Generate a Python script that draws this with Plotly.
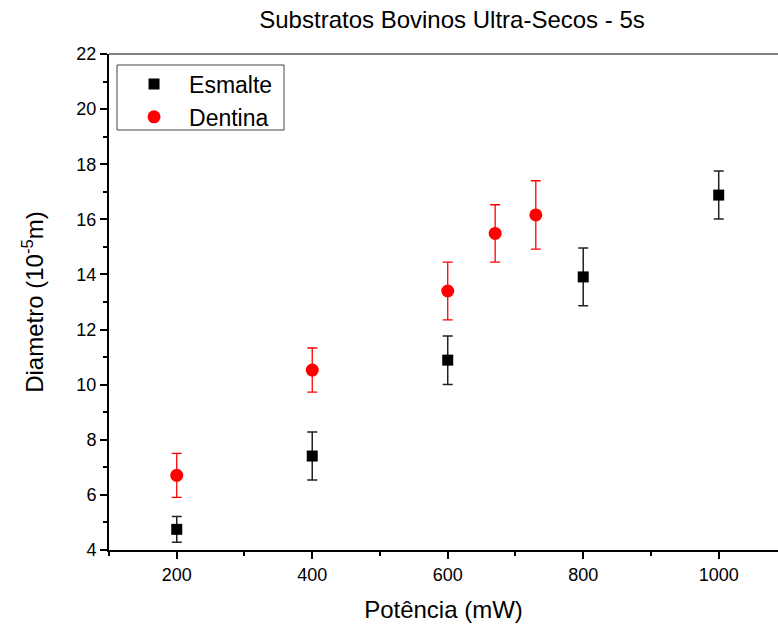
import plotly.graph_objects as go

# Data
esmalte_x = [200, 400, 600, 800, 1000]
esmalte_y = [4.75, 7.41, 10.89, 13.91, 16.88]
esmalte_err = [0.47, 0.87, 0.88, 1.05, 0.87]

dentina_x = [200, 400, 600, 670, 730]
dentina_y = [6.71, 10.53, 13.40, 15.49, 16.16]
dentina_err = [0.80, 0.80, 1.05, 1.04, 1.24]

x_ticks = [200, 400, 600, 800, 1000]
y_ticks = [4, 6, 8, 10, 12, 14, 16, 18, 20, 22]

FONT = "Arial, Liberation Sans, sans-serif"

fig = go.Figure()
fig.add_trace(go.Scatter(
    x=esmalte_x, y=esmalte_y, mode="markers", name="Esmalte",
    marker=dict(symbol="square", size=11, color="black"),
    error_y=dict(type="data", array=esmalte_err, visible=True,
                 color="#222222", thickness=1.5, width=5),
))
fig.add_trace(go.Scatter(
    x=dentina_x, y=dentina_y, mode="markers", name="Dentina",
    marker=dict(symbol="circle", size=13, color="#ff0000"),
    error_y=dict(type="data", array=dentina_err, visible=True,
                 color="#ff0000", thickness=1.3, width=5),
))

fig.update_layout(
    width=778, height=628,
    margin=dict(l=109, r=0, t=54, b=78),
    paper_bgcolor="white", plot_bgcolor="white",
    font=dict(family=FONT, color="black"),
    title=dict(text="Substratos Bovinos Ultra-Secos - 5s",
               x=0.581, xref="container", xanchor="center",
               y=0.968, yref="container", yanchor="middle",
               font=dict(size=24, family=FONT)),
    showlegend=True,
    legend=dict(x=0.015, y=0.983, xanchor="left", yanchor="top",
                borderwidth=0, bgcolor="rgba(0,0,0,0)",
                font=dict(size=23, family=FONT), itemwidth=60,
                tracegroupgap=0),
)

fig.update_xaxes(
    range=[100, 1087.5], tickvals=x_ticks, ticktext=[str(v) for v in x_ticks],
    showgrid=False, zeroline=False, showline=True, linecolor="black", linewidth=2,
    ticks="outside", ticklen=7, tickwidth=1.5, tickcolor="black",
    tickfont=dict(size=18, family=FONT),
    minor=dict(dtick=100, tick0=0, ticks="outside", ticklen=4, tickwidth=1.5, tickcolor="black", showgrid=False),
    title=dict(text="Potência (mW)", font=dict(size=24, family=FONT), standoff=18),
)
fig.update_yaxes(
    range=[4, 22], tickvals=y_ticks, ticktext=[str(v) for v in y_ticks],
    showgrid=False, zeroline=False, showline=True, linecolor="black", linewidth=2,
    ticks="outside", ticklen=7, tickwidth=1.5, tickcolor="black",
    tickfont=dict(size=18, family=FONT),
    minor=dict(dtick=1, tick0=0, ticks="outside", ticklen=4, tickwidth=1.5, tickcolor="black", showgrid=False),
    title=dict(text="Diametro (10<sup>-5</sup>m)", font=dict(size=24, family=FONT), standoff=26),
)

# top frame line
fig.add_shape(type="line", xref="paper", yref="paper", x0=0, x1=1, y0=1, y1=1,
              line=dict(color="black", width=1))
# legend frame
fig.add_shape(type="rect", xref="paper", yref="paper", x0=0.012, x1=0.2616,
              y0=0.8468, y1=0.9778, line=dict(color="#444444", width=1),
              fillcolor="rgba(0,0,0,0)", layer="above")

fig.write_html("out.html", config={"displayModeBar": False},
               post_script="document.body.style.margin='0';document.body.style.overflow='hidden';")
